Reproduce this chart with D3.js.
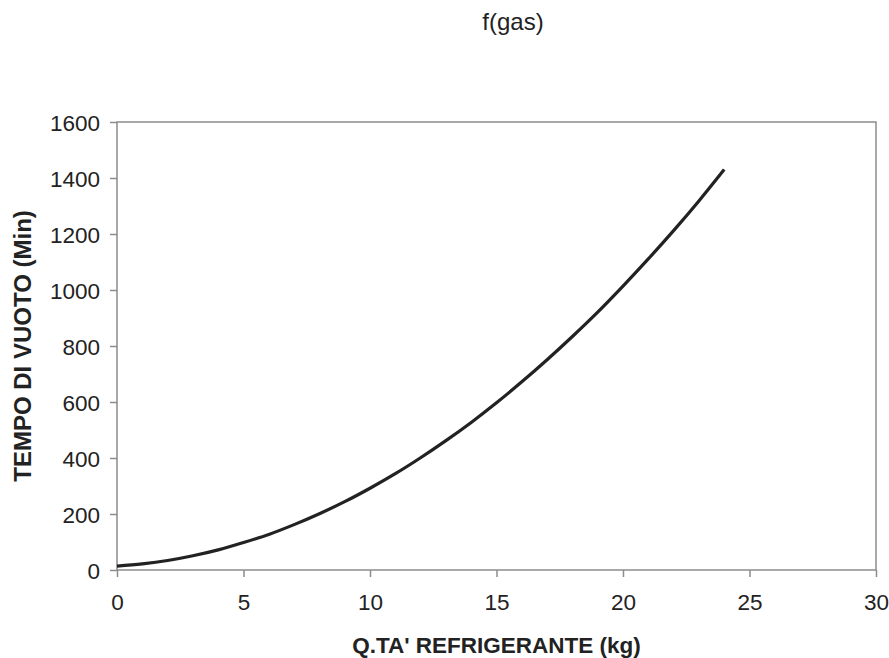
<!DOCTYPE html>
<html>
<head>
<meta charset="utf-8">
<script src="https://cdn.jsdelivr.net/npm/d3@7"></script>
<style>
  body { margin: 0; background: #fff; }
  text { font-family: "Liberation Sans", Arial, sans-serif; fill: #222; }
</style>
</head>
<body>
<div id="chart"></div>
<script>
// data
var gasKg = [0, 1, 2, 3, 4, 5, 6, 7, 8, 9, 10, 11, 12, 13, 14, 15, 16, 17, 18, 19, 20, 21, 22, 23, 24];
var vacuumMin = [14, 22, 34, 51, 72, 98, 127, 162, 201, 244, 292, 344, 401, 462, 527, 597, 672, 751, 834, 921, 1014, 1111, 1212, 1318, 1430];
var xTicks = [0, 5, 10, 15, 20, 25, 30];
var yTicks = [0, 200, 400, 600, 800, 1000, 1200, 1400, 1600];

var svgWidth = 889;
var svgHeight = 658;

var margin = { top: 122, right: 13, bottom: 88, left: 117 };
var width = svgWidth - margin.left - margin.right;
var height = svgHeight - margin.top - margin.bottom;

var svg = d3.select('#chart')
  .append('svg')
  .attr('width', svgWidth)
  .attr('height', svgHeight);

var chartGroup = svg.append('g')
  .attr('transform', `translate(${margin.left}, ${margin.top})`);

var x = d3.scaleLinear().domain([0, 30]).range([0, width]);
var y = d3.scaleLinear().domain([0, 1600]).range([height, 0]);

// frame
chartGroup.append('rect')
  .attr('width', width)
  .attr('height', height)
  .attr('fill', 'none')
  .attr('stroke', '#8c8c8c')
  .attr('stroke-width', 1.5);

// axes
var bottomAxis = d3.axisBottom(x).tickValues(xTicks).tickFormat(d3.format('d')).tickSize(7).tickPadding(17);
var leftAxis = d3.axisLeft(y).tickValues(yTicks).tickFormat(d3.format('d')).tickSize(7).tickPadding(10);

var xAxis = chartGroup.append('g')
  .attr('transform', `translate(0, ${height})`)
  .call(bottomAxis);

var yAxis = chartGroup.append('g').call(leftAxis);

[xAxis, yAxis].forEach(function (g) {
  g.select('.domain').remove();
  g.selectAll('line').attr('stroke', '#8c8c8c').attr('stroke-width', 1.5);
  g.selectAll('text')
    .style('font-size', '22.5px')
    .style('font-family', '"Liberation Sans", Arial, sans-serif')
    .attr('fill', '#222');
});
yAxis.selectAll('text').attr('dy', '0.36em');

// curve
var line = d3.line()
  .x(function (d, i) { return x(gasKg[i]); })
  .y(function (d) { return y(d); })
  .curve(d3.curveMonotoneX);

chartGroup.append('path')
  .datum(vacuumMin)
  .attr('d', line)
  .attr('fill', 'none')
  .attr('stroke', '#222')
  .attr('stroke-width', 3.2);

// titles
svg.append('text')
  .attr('x', 513)
  .attr('y', 30)
  .attr('text-anchor', 'middle')
  .style('font-size', '24px')
  .text('f(gas)');

svg.append('text')
  .attr('x', margin.left + width / 2)
  .attr('y', 653)
  .attr('text-anchor', 'middle')
  .style('font-size', '22.5px')
  .style('font-weight', 'bold')
  .text("Q.TA' REFRIGERANTE (kg)");

svg.append('text')
  .attr('transform', `translate(31, ${margin.top + height / 2}) rotate(-90)`)
  .attr('text-anchor', 'middle')
  .style('font-size', '24px')
  .style('font-weight', 'bold')
  .text('TEMPO DI VUOTO (Min)');
</script>
</body>
</html>
